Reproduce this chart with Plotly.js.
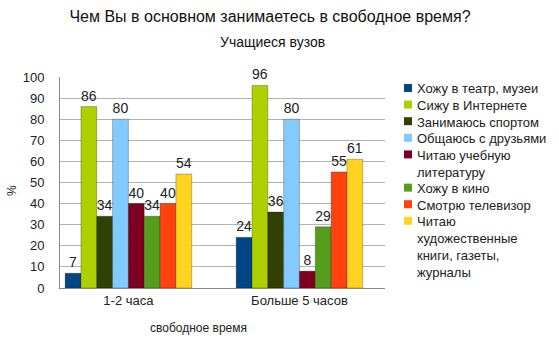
<!DOCTYPE html>
<html><head><meta charset="utf-8">
<script src="https://cdn.plot.ly/plotly-3.0.1.min.js"></script>
<style>body{margin:0;background:#fff}#c{width:559px;height:356px}</style>
</head><body><div id="c"></div>
<script>
const categories = ["1-2 часа", "Больше 5 часов"];
const seriesNames = ["Хожу в театр, музеи", "Сижу в Интернете", "Занимаюсь спортом", "Общаюсь с друзьями", "Читаю учебную<br>литературу", "Хожу в кино", "Смотрю телевизор", "Читаю<br>художественные<br>книги, газеты,<br>журналы"];
const theatre = [7, 24];
const internet = [86, 96];
const sport = [34, 36];
const friends = [80, 80];
const study = [40, 8];
const cinema = [34, 29];
const tv = [40, 55];
const books = [54, 61];
const colors = ["#004586", "#aecf00", "#314004", "#83caff", "#7e0021", "#579d1c", "#ff420e", "#ffd320"];
const seriesValues = [theatre, internet, sport, friends, study, cinema, tv, books];
const yTicks = [0,10,20,30,40,50,60,70,80,90,100];

const font = "Liberation Sans, Arial, sans-serif";
const W = 559, H = 356;
const M = {l: 60, r: 174, t: 77, b: 68};
const traces = seriesValues.map((v, i) => ({
  type: "bar", name: seriesNames[i], x: categories, y: v,
  marker: {color: colors[i], line: {color: "rgba(0,0,0,0.25)", width: 1}},
  text: v.map(String), textposition: "outside", cliponaxis: false,
  textfont: {family: font, size: 14, color: "#222"}, showlegend: false
}));

const plotW = W - M.l - M.r, plotH = H - M.t - M.b;
const px = x => (x - M.l) / plotW;
const py = y => (H - M.b - y) / plotH;
const lineH = 16.6;
const shapes = [], annotations = [];
let yy = 88;
seriesNames.forEach((name, i) => {
  const nLines = name.split("<br>").length;
  shapes.push({type: "rect", xref: "paper", yref: "paper", x0: px(404), x1: px(412), y0: py(yy + 4), y1: py(yy - 4), fillcolor: colors[i], line: {width: 0}});
  annotations.push({text: name, xref: "paper", yref: "paper", x: px(415), y: py(yy - 8.5), xanchor: "left", yanchor: "top", align: "left", showarrow: false, font: {size: 13, family: font, color: "#222"}});
  yy += lineH * nLines;
});
annotations.push({text: "Учащиеся вузов", xref: "paper", yref: "paper", x: px(272), y: py(42), xanchor: "center", yanchor: "middle", showarrow: false, font: {size: 14, family: font, color: "#111"}});
annotations.push({text: "свободное время", xref: "paper", yref: "paper", x: px(198), y: py(328), xanchor: "center", yanchor: "middle", showarrow: false, font: {size: 12, family: font, color: "#222"}});
annotations.push({text: "%", xref: "paper", yref: "paper", x: px(12), y: py(190), xanchor: "center", yanchor: "middle", textangle: -90, showarrow: false, font: {size: 12, family: font, color: "#222"}});

const layout = {
  width: W, height: H,
  margin: M,
  paper_bgcolor: "#fff", plot_bgcolor: "#fff",
  barmode: "group", bargap: 0.26, bargroupgap: 0,
  font: {family: font, color: "#222"},
  title: {text: "Чем Вы в основном занимаетесь в свободное время?", x: 0.483, xanchor: "center", y: 0.955, yanchor: "middle", font: {size: 16, family: font, color: "#111"}},
  annotations: annotations, shapes: shapes,
  xaxis: {type: "category", range: [-0.4, 1.5], showgrid: false, showline: true, linecolor: "#888", ticks: "",
    tickfont: {size: 13, family: font, color: "#222"}},
  yaxis: {range: [0, 100], tickmode: "array", tickvals: yTicks, showgrid: true, gridcolor: "#b3b3b3",
    showline: true, linecolor: "#888", zeroline: false, ticks: "outside", ticklen: 12, tickcolor: "#ffffff",
    tickfont: {size: 13, family: font, color: "#222"}},
  showlegend: false
};
Plotly.newPlot("c", traces, layout, {displayModeBar: false, staticPlot: true});
</script></body></html>
